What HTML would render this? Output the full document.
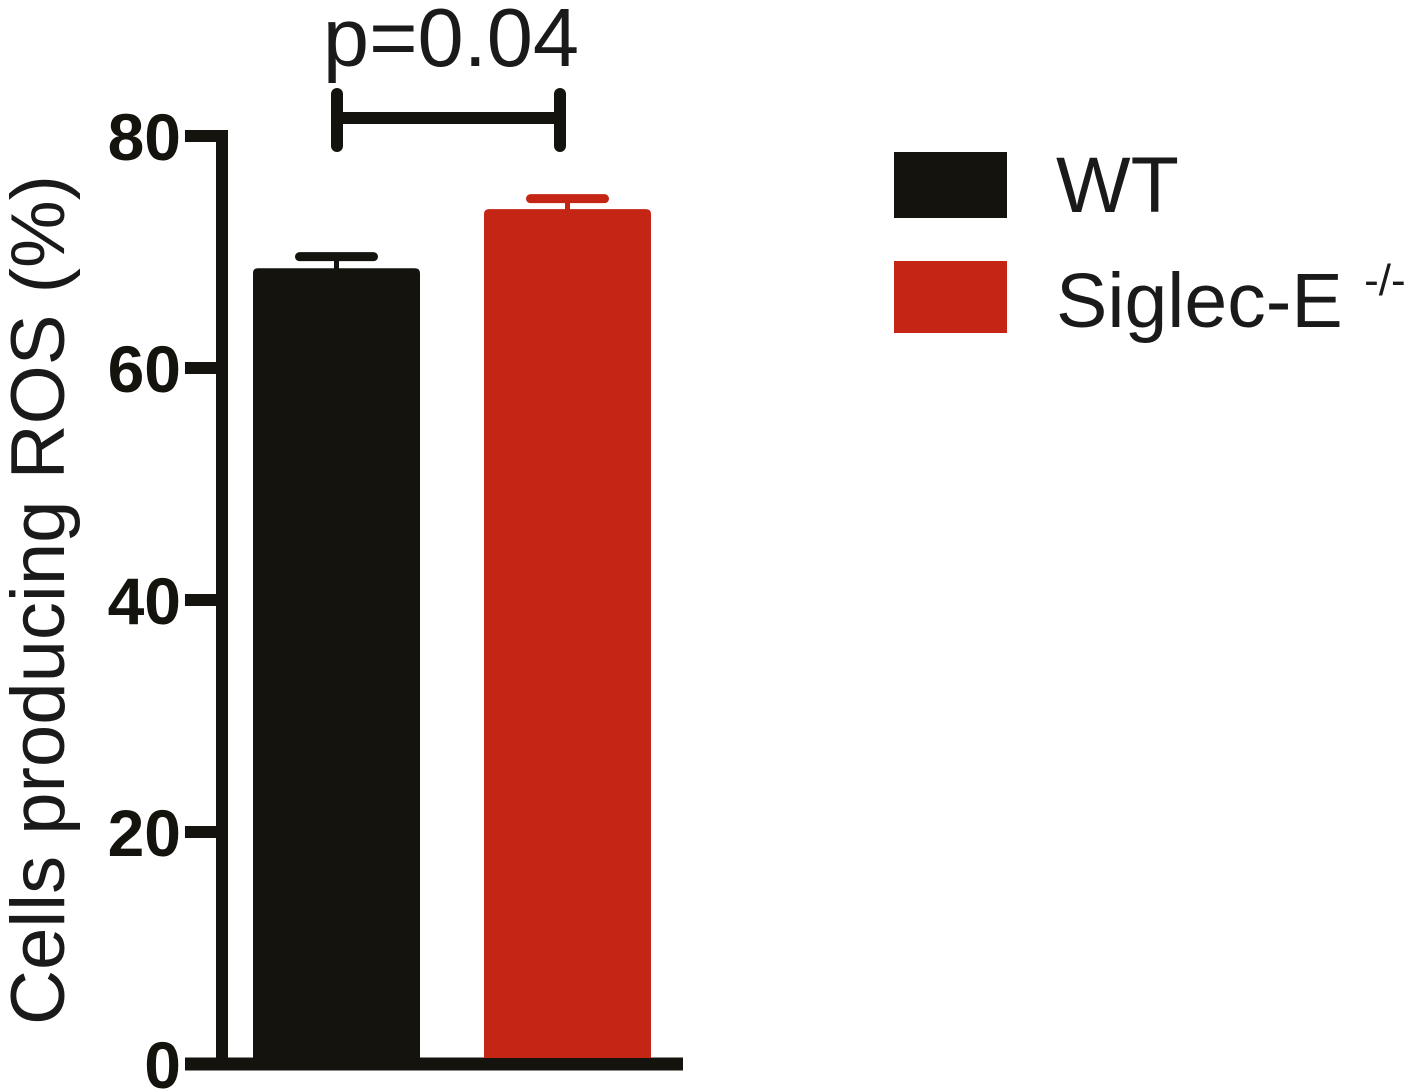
<!DOCTYPE html>
<html><head><meta charset="utf-8"><style>
html,body{margin:0;padding:0;background:#fff;}
svg{display:block;font-family:"Liberation Sans",Arial,sans-serif;}
</style></head><body>
<svg id="chart" width="1413" height="1091" viewBox="0 0 1413 1091" xmlns="http://www.w3.org/2000/svg">
<g id="axes"></g>
<g id="bars"></g>
<g stroke="#14130e" stroke-width="12" stroke-linecap="round" fill="none">
<line x1="337" y1="118" x2="560" y2="118"/>
<line x1="337" y1="94" x2="337" y2="146"/>
<line x1="560" y1="94" x2="560" y2="146"/>
</g>
<text x="451" y="66" font-size="83" text-anchor="middle" fill="#1a1a1a">p=0.04</text>
<text transform="translate(64,600) rotate(-90)" font-size="76" text-anchor="middle" fill="#1a1a1a" textLength="850" lengthAdjust="spacingAndGlyphs">Cells producing ROS (%)</text>
<g>
<rect x="894" y="152" width="113" height="66" fill="#14130e"/>
<text x="1056" y="212" font-size="79" fill="#1a1a1a">WT</text>
<rect x="894" y="261" width="113" height="72" fill="#c42515"/>
<text x="1056" y="327" font-size="77" fill="#1a1a1a">Siglec-E <tspan font-size="44" dy="-32">-/-</tspan></text>
</g>
</svg>
<script>
const categories = ["WT", "Siglec-E -/-"];
const means = [68.6, 73.7];
const errors = [1.0, 0.9];
const colors = ["#14130e", "#c42515"];
const yTicks = [0, 20, 40, 60, 80];
const yTickLabels = ["0", "20", "40", "60", "80"];

const NS = "http://www.w3.org/2000/svg";
const y0 = 1064, y80 = 136;
function yScale(v){ return y0 - (v/80)*(y0-y80); }
const barW = 167, barStart = 253, barStep = 231;
function xScale(i){ return barStart + i*barStep; }

const axes = document.getElementById('axes');
function mk(tag, attrs, parent){
  const e = document.createElementNS(NS, tag);
  for (const k in attrs) e.setAttribute(k, attrs[k]);
  parent.appendChild(e); return e;
}
const ya = mk('line', {x1:222, y1:yScale(80)-6, x2:222, y2:y0, stroke:'#14130e','stroke-width':12}, axes);


const xa = mk('line', {x1:185, y1:y0, x2:683, y2:y0, stroke:'#14130e','stroke-width':13}, axes);


yTicks.forEach((t, i) => {
  const y = yScale(t);
  const tk = mk('line', {x1:185, y1:y, x2:222, y2:y, stroke:'#14130e','stroke-width':12}, axes);
  
  
  const tx = mk('text', {x:181, y:y+24, 'font-size':66, 'font-weight':'bold', 'text-anchor':'end', fill:'#14130e'}, axes);
  tx.textContent = yTickLabels[i];
  
  
});
const bars = document.getElementById('bars');
const base = y0 - 6;
categories.forEach((c, i) => {
  const x = xScale(i), top = yScale(means[i]);
  const b = mk('path', {d:`M${x},${base} L${x},${top+5} Q${x},${top} ${x+5},${top} L${x+barW-5},${top} Q${x+barW},${top} ${x+barW},${top+5} L${x+barW},${base} Z`, fill:colors[i]}, bars);
  
  
  const cx = x + barW/2, ey = yScale(means[i] + errors[i]);
  const g = mk('g', {stroke:colors[i], 'stroke-linecap':'round'}, bars);
  
  
  mk('line', {x1:cx, y1:top, x2:cx, y2:ey, 'stroke-width':5}, g);
  mk('line', {x1:cx-37, y1:ey, x2:cx+37, y2:ey, 'stroke-width':9}, g);
});
</script>
</body></html>
